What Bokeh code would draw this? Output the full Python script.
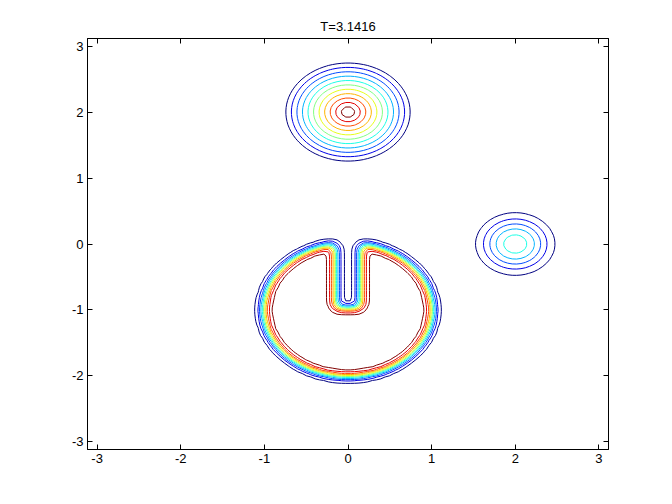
import numpy as np
from bokeh.plotting import figure
from bokeh.models import Range1d, LinearAxis, FixedTicker, CustomJSTickFormatter
from bokeh.embed import file_html
from bokeh.resources import INLINE

# ---- chart values ----
title_text = "T=3.1416"
tick_values = [-3, -2, -1, 0, 1, 2, 3]
axis_limits = [-3.115, 3.115]
grid_cells = 120

contour_levels = [0.05, 0.14, 0.23, 0.32, 0.41, 0.50, 0.59, 0.68, 0.77, 0.86, 0.95]

cone_center = [0.0, 2.0]
cone_radius = 0.78
cone_peak = 1.06

hump_center = [2.0, 0.0]
hump_radius = 0.60
hump_peak = 0.47

disk_center = [0.0, -1.0]
disk_radius = 1.01
slot_half_width = 0.15
slot_bottom = -0.98
edge_blur = 0.06


def jet(t):
    r = np.clip(1.5 - abs(4 * t - 3), 0, 1)
    g = np.clip(1.5 - abs(4 * t - 2), 0, 1)
    b = np.clip(1.5 - abs(4 * t - 1), 0, 1)
    return "#%02x%02x%02x" % (int(round(r * 255)), int(round(g * 255)), int(round(b * 255)))


n_lev = len(contour_levels)
level_colors = [jet(k / (n_lev - 1)) for k in range(n_lev)]

# ---- field on the solution grid ----
h = 2 * np.pi / grid_cells
xs = -np.pi + h * (np.arange(grid_cells) + 0.5)
X, Y = np.meshgrid(xs, xs)

rc = np.hypot(X - cone_center[0], Y - cone_center[1])
cone = cone_peak * np.clip(1 - rc / cone_radius, 0, None)

rh = np.hypot(X - hump_center[0], Y - hump_center[1])
hump = np.where(rh < hump_radius, hump_peak * 0.5 * (1 + np.cos(np.pi * rh / hump_radius)), 0.0)

# slotted disk: indicator on a finer grid, smeared by a gaussian, sampled on the solution grid
sub = 4
hf = h / sub
xf = xs[0] + hf * np.arange(grid_cells * sub)
XF, YF = np.meshgrid(xf, xf)
in_disk = np.hypot(XF - disk_center[0], YF - disk_center[1]) <= disk_radius
in_slot = (np.abs(XF - disk_center[0]) <= slot_half_width) & (YF >= slot_bottom)
ind = (in_disk & ~in_slot).astype(float)
sig = edge_blur / hf
kx = np.arange(-int(4 * sig) - 1, int(4 * sig) + 2)
kern = np.exp(-0.5 * (kx / sig) ** 2)
kern /= kern.sum()
ind = np.apply_along_axis(lambda v: np.convolve(v, kern, mode="same"), 1, ind)
ind = np.apply_along_axis(lambda v: np.convolve(v, kern, mode="same"), 0, ind)
disk = ind[::sub, ::sub]

U = cone + hump + disk

# ---- figure ----
p = figure(width=656, height=488, output_backend="svg", toolbar_location=None,
           x_range=Range1d(*axis_limits), y_range=Range1d(*axis_limits),
           min_border_left=87, min_border_right=48, min_border_top=38, min_border_bottom=39,
           title=title_text)
p.title.align = "center"
p.title.text_font = "Liberation Sans"
p.title.text_font_size = "13px"
p.title.text_font_style = "normal"
p.title.text_color = "black"
p.xgrid.visible = False
p.ygrid.visible = False
p.outline_line_color = "black"
p.outline_line_width = 1
p.background_fill_color = "white"
p.border_fill_color = "white"

p.contour(xs, xs, U, levels=contour_levels, line_color=level_colors, line_width=1, fill_color=None)

for ax in (p.xaxis[0], p.yaxis[0]):
    ax.ticker = FixedTicker(ticks=tick_values)
    ax.formatter = CustomJSTickFormatter(code="return String(tick)")
    ax.major_tick_in = 5
    ax.major_tick_out = 0
    ax.minor_tick_in = 0
    ax.minor_tick_out = 0
    ax.axis_line_color = "black"
    ax.major_tick_line_color = "black"
    ax.major_label_text_font = "Liberation Sans"
    ax.major_label_text_font_size = "13px"
    ax.major_label_text_color = "black"
    ax.major_label_standoff = 4

for side in ("above", "right"):
    ax = LinearAxis(ticker=FixedTicker(ticks=tick_values), major_tick_in=5, major_tick_out=0,
                    minor_tick_in=0, minor_tick_out=0,
                    formatter=CustomJSTickFormatter(code="return ''"),
                    major_label_standoff=0, axis_line_color="black")
    p.add_layout(ax, side)

open("out.html", "w").write(file_html(p, INLINE))
